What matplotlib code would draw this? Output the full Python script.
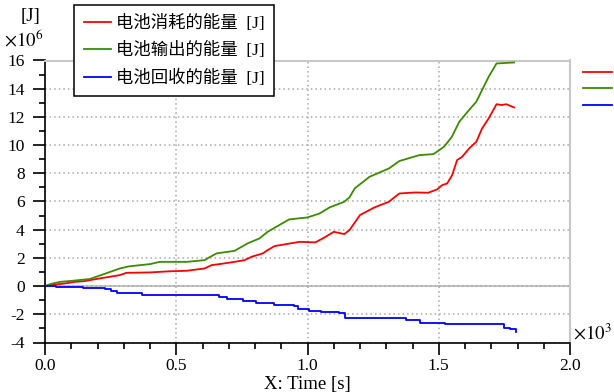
import matplotlib
matplotlib.use("Agg")
import matplotlib.pyplot as plt
from matplotlib.lines import Line2D
from matplotlib.ticker import MultipleLocator

# ---- data (time in 10^3 s, energy in 10^6 J) ----
consumed_t = [0, 0.02, 0.076, 0.114, 0.15, 0.21, 0.247, 0.285, 0.31, 0.40, 0.475, 0.54,
              0.608, 0.635, 0.665, 0.722, 0.76, 0.787, 0.83, 0.848, 0.875, 0.97, 1.03,
              1.065, 1.10, 1.14, 1.16, 1.2, 1.255, 1.31, 1.35, 1.41, 1.46, 1.494, 1.513,
              1.532, 1.551, 1.57, 1.589, 1.616, 1.643, 1.665, 1.69, 1.72, 1.74, 1.757, 1.787]
consumed_v = [0, 0.07, 0.19, 0.3, 0.35, 0.55, 0.66, 0.78, 0.94, 0.97, 1.05, 1.09,
              1.25, 1.49, 1.56, 1.72, 1.84, 2.08, 2.32, 2.55, 2.84, 3.14, 3.1,
              3.45, 3.85, 3.69, 3.97, 5.04, 5.58, 5.98, 6.57, 6.64, 6.62, 6.86, 7.16,
              7.28, 7.87, 8.94, 9.17, 9.77, 10.23, 11.18, 11.89, 12.9, 12.84, 12.9, 12.67]

output_t = [0, 0.02, 0.057, 0.106, 0.17, 0.235, 0.285, 0.32, 0.40, 0.437, 0.54, 0.608,
            0.625, 0.654, 0.722, 0.772, 0.817, 0.848, 0.89, 0.93, 1.0, 1.046, 1.084,
            1.14, 1.16, 1.18, 1.236, 1.31, 1.35, 1.426, 1.48, 1.52, 1.55, 1.578, 1.616,
            1.643, 1.665, 1.69, 1.72, 1.787]
output_v = [0, 0.14, 0.3, 0.38, 0.5, 0.92, 1.25, 1.40, 1.56, 1.72, 1.72, 1.84,
            2.03, 2.32, 2.5, 3.03, 3.38, 3.85, 4.3, 4.73, 4.87, 5.15, 5.58,
            5.98, 6.3, 6.93, 7.75, 8.34, 8.87, 9.29, 9.36, 9.88, 10.59, 11.65, 12.5,
            13.07, 13.9, 14.84, 15.79, 15.86]

recovered_t = [0, 0.04, 0.145, 0.228, 0.25, 0.273, 0.37, 0.5, 0.648, 0.663, 0.693, 0.753,
               0.805, 0.873, 0.948, 0.963, 1.007, 1.052, 1.12, 1.142, 1.352, 1.375, 1.427,
               1.525, 1.727, 1.75, 1.772, 1.795]
recovered_v = [0, -0.05, -0.17, -0.24, -0.36, -0.48, -0.6, -0.6, -0.65, -0.77, -0.89, -1.03,
               -1.2, -1.37, -1.44, -1.63, -1.75, -1.87, -1.94, -2.23, -2.23, -2.4, -2.59,
               -2.71, -2.71, -2.95, -3.04, -3.23]

labels = ["电池消耗的能量  [J]", "电池输出的能量  [J]", "电池回收的能量  [J]"]
colors = ["#ff0000", "#3a8c00", "#0000ff"]
xticks = [0.0, 0.5, 1.0, 1.5, 2.0]
yticks = [-4, -2, 0, 2, 4, 6, 8, 10, 12, 14, 16]

FONT = ["Liberation Serif", "Noto Sans CJK SC", "DejaVu Sans"]
plt.rcParams["font.family"] = FONT
plt.rcParams["mathtext.fontset"] = "stix"

W, H = 614, 392
fig = plt.figure(figsize=(W / 100, H / 100), dpi=100)
ax = fig.add_axes([45 / W, 1 - 342.5 / H, (570 - 45) / W, (342.5 - 60.5) / H])

ax.plot(consumed_t, consumed_v, color=colors[0], lw=1.3, label=labels[0], zorder=3)
ax.plot(output_t, output_v, color=colors[1], lw=1.3, label=labels[1], zorder=3)
ax.plot(recovered_t, recovered_v, color=colors[2], lw=1.3, label=labels[2],
        drawstyle="steps-post", zorder=3)

ax.set_xlim(0, 2.0)
ax.set_ylim(-4, 16)
ax.set_xticks(xticks)
ax.set_xticklabels([f"{v:.1f}" for v in xticks])
ax.set_yticks(yticks)
ax.set_yticklabels([str(v) for v in yticks])
ax.xaxis.set_minor_locator(MultipleLocator(0.1))
ax.yaxis.set_minor_locator(MultipleLocator(1))
ax.tick_params(axis="both", which="major", direction="out", length=8.5, width=1.2,
               labelsize=12.5, colors="black")
ax.tick_params(axis="y", which="major", pad=6)
ax.tick_params(axis="x", which="major", pad=3)
ax.tick_params(axis="both", which="minor", direction="out", length=4.3, width=1.2)

ax.grid(True, which="major", color="#a8a8a8", linestyle=(0, (1, 2)), lw=1.1, zorder=0)
ax.axhline(0, color="#c4c4c4", lw=1.5, zorder=1)

for s in ["left", "bottom"]:
    ax.spines[s].set_color("black")
    ax.spines[s].set_linewidth(1.2)
for s in ["top", "right"]:
    ax.spines[s].set_color("#c8c8c8")
    ax.spines[s].set_linewidth(1.5)

ax.set_xlabel("X: Time [s]", fontsize=13.5, labelpad=1)

fig.text(30 / W, 1 - 16 / H, "[J]", fontsize=13.5, ha="center", va="center")
fig.text(4 / W, 1 - 40 / H, r"$\times10^{6}$", fontsize=13.5, ha="left", va="center")
fig.text(573 / W, 1 - 333 / H, r"$\times10^{3}$", fontsize=13.5, ha="left", va="center")

leg = ax.legend(loc="upper left", bbox_to_anchor=(74 / W, 1 - 5 / H),
                bbox_transform=fig.transFigure, borderaxespad=0, fancybox=False,
                frameon=True, edgecolor="black", framealpha=1,
                handlelength=1.6, handletextpad=0.25, labelspacing=0.6,
                borderpad=0.55, prop={"family": FONT, "size": 12.5})
leg.get_frame().set_linewidth(1.1)
leg.set_zorder(10)

# short colour keys at the right-hand side of the figure
for c, yp in zip(colors, [72, 88, 105]):
    fig.add_artist(Line2D([583 / W, 612 / W], [1 - yp / H, 1 - yp / H],
                          transform=fig.transFigure, color=c, lw=1.3))

fig.savefig("out.png", dpi=100)
